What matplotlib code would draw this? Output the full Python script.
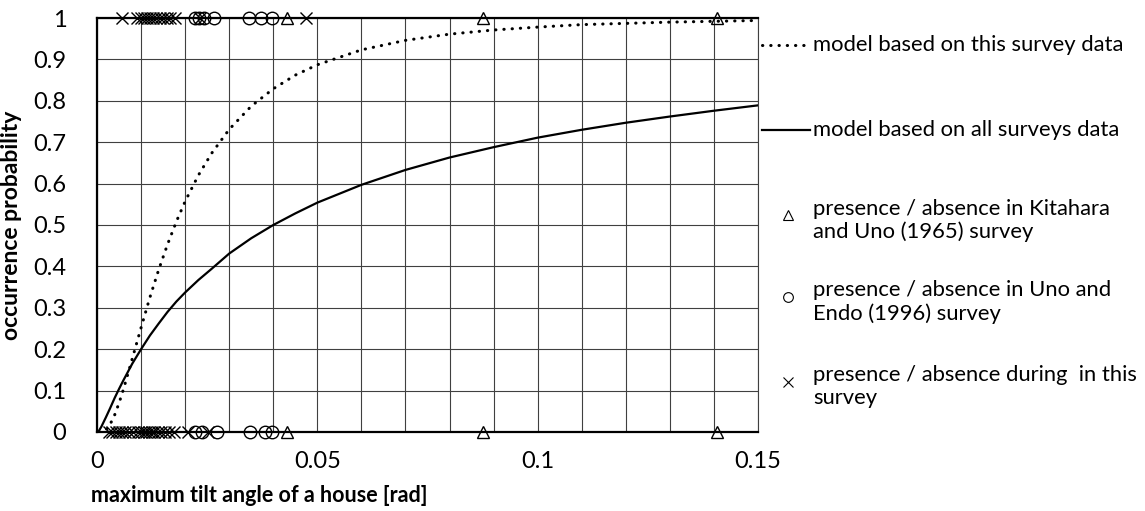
import matplotlib
matplotlib.use("Agg")
import matplotlib.pyplot as plt
from matplotlib.lines import Line2D
from matplotlib.ticker import FuncFormatter, MultipleLocator

plt.rcParams['font.family'] = ['Lato', 'DejaVu Sans']

# model curves
model_x = [0.0005, 0.001, 0.002, 0.003, 0.004, 0.005, 0.006, 0.008, 0.010, 0.012,
           0.014, 0.016, 0.018, 0.020, 0.023, 0.026, 0.030, 0.035, 0.040, 0.045,
           0.050, 0.060, 0.070, 0.080, 0.090, 0.100, 0.110, 0.120, 0.130, 0.140, 0.150]
this_survey = [0.0, 0.0, 0.005, 0.019, 0.041, 0.070, 0.103, 0.177, 0.252, 0.325,
               0.392, 0.453, 0.508, 0.557, 0.620, 0.673, 0.731, 0.787, 0.829, 0.862,
               0.887, 0.923, 0.946, 0.961, 0.971, 0.978, 0.984, 0.987, 0.990, 0.992, 0.994]
all_surveys = [0.004, 0.013, 0.035, 0.058, 0.082, 0.104, 0.125, 0.165, 0.200, 0.233,
               0.262, 0.290, 0.315, 0.337, 0.367, 0.394, 0.431, 0.468, 0.500, 0.528,
               0.554, 0.597, 0.633, 0.663, 0.688, 0.711, 0.730, 0.747, 0.762, 0.776, 0.789]

# observations: presence (1) / absence (0)
kitahara_present = [0.0432, 0.0877, 0.1407]
kitahara_absent = [0.0432, 0.0877, 0.1407]
uno_present = [0.0222, 0.0232, 0.0242, 0.0265, 0.0345, 0.0373, 0.0396]
uno_absent = [0.0222, 0.0238, 0.0272, 0.0347, 0.0381, 0.0397]
this_present = [0.0057, 0.0091, 0.0100, 0.0107, 0.0114, 0.0121, 0.0128, 0.0135,
                0.0142, 0.0150, 0.0158, 0.0166, 0.0176, 0.0234, 0.0474]
this_absent = [0.0028, 0.0035, 0.0042, 0.0050, 0.0057, 0.0064, 0.0072, 0.0082,
               0.0092, 0.0100, 0.0106, 0.0112, 0.0118, 0.0124, 0.0130, 0.0138,
               0.0146, 0.0155, 0.0164, 0.0174, 0.0207, 0.0252]

fig = plt.figure(figsize=(11.45, 5.11), dpi=100)
ax = fig.add_axes([97 / 1145, 1 - 432 / 511, 661 / 1145, 414 / 511])

grid_col = '#404040'
ax.plot(model_x, this_survey, color='black', lw=2.2, linestyle=(0, (0.1, 2.6)),
        dash_capstyle='round', zorder=4)
ax.plot(model_x, all_surveys, color='black', lw=1.6, zorder=4)

mk = dict(linestyle='none', color='black', mfc='none', mew=1.0, ms=9,
          clip_on=False, zorder=5)
ax.plot(kitahara_present, [1] * len(kitahara_present), marker='^', **mk)
ax.plot(kitahara_absent, [0] * len(kitahara_absent), marker='^', **mk)
ax.plot(uno_present, [1] * len(uno_present), marker='o', **mk)
ax.plot(uno_absent, [0] * len(uno_absent), marker='o', **mk)
ax.plot(this_present, [1] * len(this_present), marker='x', **mk)
ax.plot(this_absent, [0] * len(this_absent), marker='x', **mk)

ax.set_xlim(0, 0.15)
ax.set_ylim(0, 1)
ax.xaxis.set_major_locator(MultipleLocator(0.05))
ax.xaxis.set_minor_locator(MultipleLocator(0.01))
ax.yaxis.set_major_locator(MultipleLocator(0.1))
fmt = FuncFormatter(lambda v, p: '%g' % round(v, 3))
ax.xaxis.set_major_formatter(fmt)
ax.yaxis.set_major_formatter(fmt)
ax.grid(True, which='both', color=grid_col, lw=0.8)
ax.set_axisbelow(True)
ax.tick_params(which='both', length=0, labelsize=17)
ax.tick_params(axis='y', pad=22)
ax.tick_params(axis='x', pad=14)

for side in ['left', 'bottom', 'top']:
    ax.spines[side].set_linewidth(1.6)
    ax.spines[side].set_color('black')
ax.spines['right'].set_color(grid_col)
ax.spines['right'].set_linewidth(0.8)

ax.set_xlabel('maximum tilt angle of a house [rad]', fontsize=15.5, fontweight='bold')
ax.xaxis.set_label_coords(0.245, -0.128)
ax.set_ylabel('occurrence probability', fontsize=16.5, fontweight='bold')
ax.yaxis.set_label_coords(-0.113, 0.5)

# legend drawn beside the plot
tx = 1.083
line_entries = [
    (0.935, dict(lw=2.2, linestyle=(0, (0.1, 2.6)), dash_capstyle='round'),
     'model based on this survey data'),
    (0.729, dict(lw=1.6), 'model based on all surveys data'),
]
for y, style, label in line_entries:
    ax.add_artist(Line2D([1.006, 1.079], [y, y], color='black', transform=ax.transAxes,
                         clip_on=False, **style))
    ax.text(tx, y, label, transform=ax.transAxes, va='center', fontsize=15.8)

marker_entries = [
    (0.524, '^', 'presence / absence in Kitahara\nand Uno (1965) survey'),
    (0.326, 'o', 'presence / absence in Uno and\nEndo (1996) survey'),
    (0.121, 'x', 'presence / absence during  in this\nsurvey'),
]
for y, m, label in marker_entries:
    ax.add_artist(Line2D([1.045], [y], marker=m, color='black', mfc='none', mew=0.8,
                         ms=7, transform=ax.transAxes, clip_on=False))
    ax.text(tx, y + 0.04, label, transform=ax.transAxes, va='top', fontsize=15.8,
            linespacing=1.15)

fig.savefig('out.png', dpi=100)
